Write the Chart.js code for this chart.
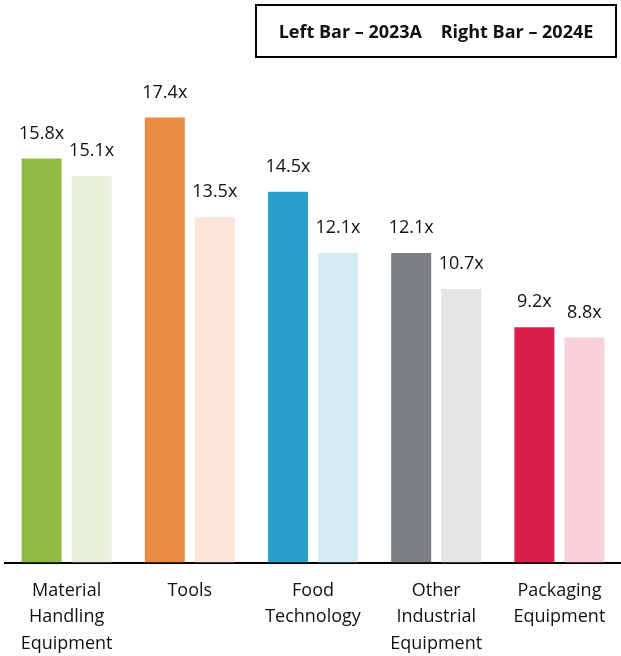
<!DOCTYPE html>
<html>
<head>
<meta charset="utf-8">
<script src="https://cdn.jsdelivr.net/npm/chart.js@4.4.1/dist/chart.umd.min.js"></script>
<style>
  html, body { margin: 0; padding: 0; background: #fff; }
  #wrap { position: relative; width: 621px; height: 656px; }
  #legend-box {
    position: absolute; left: 255px; top: 4px; width: 358px; height: 50px;
    border: 2px solid #000; box-sizing: content-box;
    font-family: "Open Sans", "Noto Sans", sans-serif; font-weight: bold; font-size: 18px;
    color: #111; display: flex; align-items: center; justify-content: center; white-space: pre;
  }
</style>
</head>
<body>
<div id="wrap">
  <canvas id="chart" width="621" height="656"></canvas>
  <div id="legend-box">Left Bar – 2023A    Right Bar – 2024E</div>
</div>
<script>
const categories = [
  ['Material', 'Handling', 'Equipment'],
  ['Tools'],
  ['Food', 'Technology'],
  ['Other', 'Industrial', 'Equipment'],
  ['Packaging', 'Equipment']
];
const values2023A = [15.8, 17.4, 14.5, 12.1, 9.2];
const values2024E = [15.1, 13.5, 12.1, 10.7, 8.8];
const darkColors = ['#8FBB45', '#EA8B43', '#2A9FCB', '#7B7F83', '#D81F4C'];
const lightColors = ['#E6F0DA', '#FBE6D9', '#D3EBF4', '#E4E5E5', '#F7D0DA'];

// "15.8x" style labels above each bar
const valueLabels = {
  id: 'valueLabels',
  afterDatasetsDraw(chart) {
    const ctx = chart.ctx;
    ctx.save();
    ctx.font = '18px "Open Sans", "Noto Sans", sans-serif';
    ctx.fillStyle = '#111';
    ctx.textAlign = 'center';
    ctx.textBaseline = 'middle';
    chart.data.datasets.forEach((ds, i) => {
      chart.getDatasetMeta(i).data.forEach((bar, j) => {
        ctx.fillText(ds.data[j].toFixed(1) + 'x', bar.x, bar.y - 25);
      });
    });
    ctx.restore();
  }
};

new Chart(document.getElementById('chart'), {
  type: 'bar',
  data: {
    labels: categories,
    datasets: [
      { label: '2023A', data: values2023A, backgroundColor: darkColors },
      { label: '2024E', data: values2024E, backgroundColor: lightColors }
    ]
  },
  options: {
    responsive: false,
    animation: false,
    categoryPercentage: 0.812,
    barPercentage: 0.8,
    layout: { padding: { top: 51, left: 5, right: 0, bottom: -16 } },
    plugins: { legend: { display: false }, tooltip: { enabled: false } },
    scales: {
      y: { display: false, min: 0, max: 20 },
      x: {
        grid: { display: false, drawTicks: false },
        border: { display: true, color: '#000', width: 2 },
        ticks: {
          color: '#111',
          padding: 15,
          maxRotation: 0,
          autoSkip: false,
          font: { family: '"Open Sans", "Noto Sans", sans-serif', size: 18, lineHeight: 1.47 }
        }
      }
    }
  },
  plugins: [valueLabels]
});
</script>
</body>
</html>
